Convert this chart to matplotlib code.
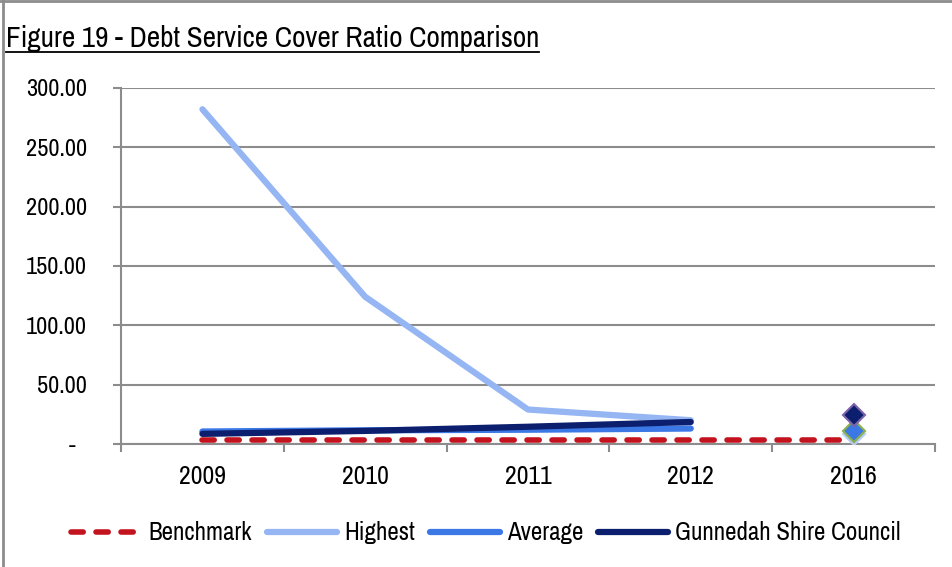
import matplotlib
matplotlib.use("Agg")
import matplotlib.pyplot as plt
from matplotlib.lines import Line2D

# Data
years = ["2009", "2010", "2011", "2012", "2016"]
benchmark = [3, 3, 3, 3, 3]
highest = [282, 124, 29, 20]
average = [10.5, 11.5, 12, 13]
gunnedah = [8.5, 11, 14.5, 18.5]
highest_2016 = 8
average_2016 = 10.8
gunnedah_2016 = 24
y_ticks = [0, 50, 100, 150, 200, 250, 300]
y_labels = ["-  ", "50.00", "100.00", "150.00", "200.00", "250.00", "300.00"]

plt.rcParams["font.family"] = ["Archivo Narrow", "DejaVu Sans"]

RED = "#c3131f"
LIGHT = "#95b6f3"
MID = "#3b78e6"
DARK = "#0c1f6e"
GRID = "#8c8c8c"

fig = plt.figure(figsize=(9.53, 5.67), dpi=100)
ax = fig.add_axes([0.127, 0.217, 0.854, 0.628])

x = list(range(len(years)))
ax.plot(x, benchmark, color=RED, lw=4, dashes=(2.2, 2.3), dash_capstyle="round",
        label="Benchmark", zorder=3)
ax.plot(x[:4], highest, color=LIGHT, lw=4.5, solid_capstyle="round", label="Highest", zorder=4)
ax.plot(x[:4], average, color=MID, lw=4.5, solid_capstyle="round", label="Average", zorder=5)
ax.plot(x[:4], gunnedah, color=DARK, lw=4.5, solid_capstyle="round",
        label="Gunnedah Shire Council", zorder=6)

ax.plot([4], [highest_2016], marker="D", ms=11, color="#9ab9f3", mec="#b7cdf5", mew=1.5, zorder=7)
ax.plot([4], [average_2016], marker="D", ms=11, color=MID, mec="#8db04a", mew=1.5, zorder=8)
ax.plot([4], [gunnedah_2016], marker="D", ms=11, color=DARK, mec="#7d62aa", mew=1.5, zorder=9)

ax.set_xlim(-0.5, 4.5)
ax.set_ylim(0, 300)
ax.set_yticks(y_ticks)
ax.set_yticklabels(y_labels)
ax.set_xticks(x)
ax.set_xticklabels(years)
ax.set_xticks([i - 0.5 for i in range(len(years) + 1)], minor=True)
ax.tick_params(axis="x", which="major", length=0, pad=15, labelsize=18.5)
ax.tick_params(axis="x", which="minor", length=6, width=1.5, color=GRID, direction="out")
ax.tick_params(axis="y", length=6, width=1.5, color=GRID, pad=18.5, labelsize=17.5)

ax.grid(axis="y", color=GRID, lw=1.5, zorder=0)
for side in ("top", "right"):
    ax.spines[side].set_visible(False)
ax.spines["left"].set_color(GRID)
ax.spines["left"].set_linewidth(1.5)
ax.spines["bottom"].set_color(GRID)
ax.spines["bottom"].set_linewidth(1.5)

title = fig.text(0.006, 0.917, "Figure 19 - Debt Service Cover Ratio Comparison",
                 fontsize=21, ha="left", va="baseline")
fig.canvas.draw()
bb = title.get_window_extent()
fig.add_artist(Line2D([bb.x0 / fig.bbox.width, bb.x1 / fig.bbox.width],
                      [0.909, 0.909], color="black", lw=1.3, transform=fig.transFigure))

# Outer frame lines on top and left
fig.add_artist(Line2D([0.003, 0.003], [0, 1], color=GRID, lw=2, transform=fig.transFigure))
fig.add_artist(Line2D([0, 1], [0.998, 0.998], color=GRID, lw=2, transform=fig.transFigure))

handles, labels = ax.get_legend_handles_labels()
fig.legend(handles, labels, loc="center", bbox_to_anchor=(0.51, 0.06), ncol=4,
           frameon=False, fontsize=18, handlelength=2.8, handletextpad=0.28,
           columnspacing=0.6)

fig.savefig("out.png", dpi=100)
